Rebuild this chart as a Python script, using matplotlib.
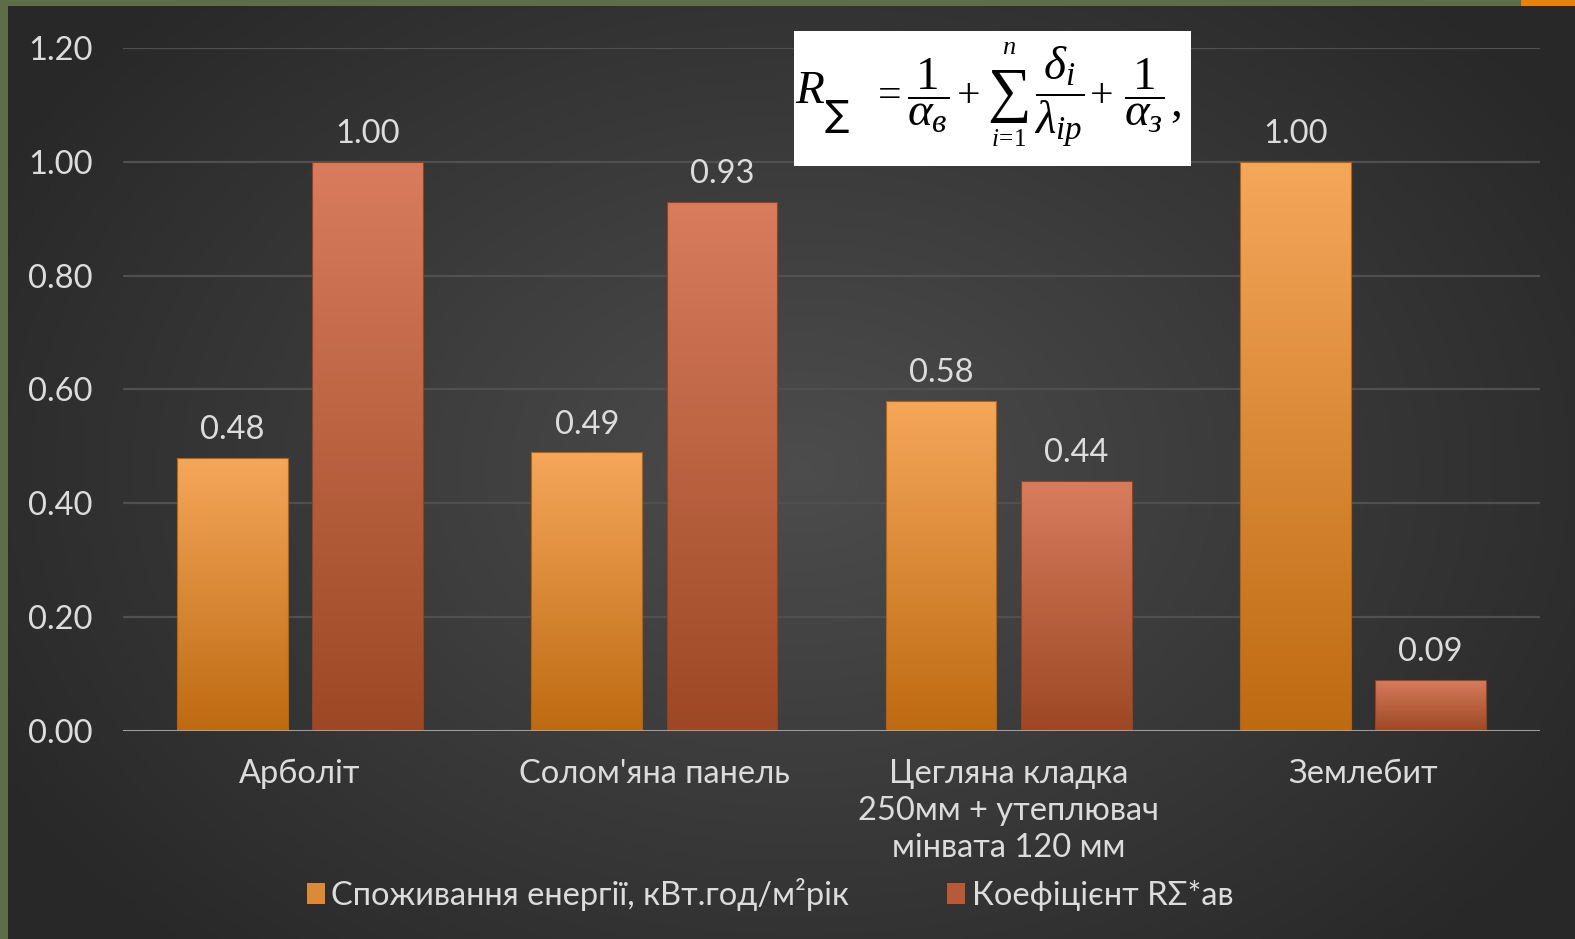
import numpy as np
import matplotlib
matplotlib.use("Agg")
import matplotlib.pyplot as plt
from matplotlib.patches import Rectangle, Patch
from matplotlib.colors import LinearSegmentedColormap

# ---- data ----
categories = ["Арболіт", "Солом'яна панель",
              "Цегляна кладка\n250мм + утеплювач\nмінвата 120 мм", "Землебит"]
energy = [0.48, 0.49, 0.58, 1.00]
resistance = [1.00, 0.93, 0.44, 0.09]
series_names = ["Споживання енергії, кВт.год/м²рік", "Коефіцієнт RΣ*ав"]
yticks = [0.0, 0.2, 0.4, 0.6, 0.8, 1.0, 1.2]

plt.rcParams["font.family"] = ["Lato", "DejaVu Sans"]
plt.rcParams["mathtext.fontset"] = "custom"
plt.rcParams["mathtext.rm"] = "Liberation Serif"
plt.rcParams["mathtext.it"] = "Liberation Serif:italic"
plt.rcParams["mathtext.bf"] = "Liberation Serif:bold"
plt.rcParams["mathtext.fallback"] = "stix"

TEXT = "#DCDCDC"
FS = 23.5
W, H = 1575, 939
fig = plt.figure(figsize=(W / 100, H / 100), dpi=100)

# ---- slide background: dark radial gradient with green frame ----
bg = fig.add_axes([0, 0, 1, 1])
bg.set_axis_off()
yy, xx = np.mgrid[0:H, 0:W]
r = np.sqrt(((xx - 800) / 900.0) ** 2 + ((yy - 470) / 650.0) ** 2)
r = np.clip(r, 0, 1)
shade = 0.30 - 0.14 * r
img = np.dstack([shade, shade, shade])
bg.imshow(img, extent=[0, W, H, 0], aspect="auto", interpolation="bilinear")
bg.set_xlim(0, W)
bg.set_ylim(H, 0)
bg.add_patch(Rectangle((0, 0), W, 6, color="#5d6c49", lw=0))
bg.add_patch(Rectangle((0, 0), 8, H, color="#5d6c49", lw=0))
bg.add_patch(Rectangle((1521, 0), W - 1521, 6, color="#E8820F", lw=0))

# ---- chart ----
ax = fig.add_axes([123 / W, 1 - 731 / H, (1540 - 123) / W, (731 - 48) / H])
ax.patch.set_alpha(0)
x = np.arange(len(categories))
bw = 0.313
off = 0.191

orange_cmap = LinearSegmentedColormap.from_list("o", ["#BE6A12", "#F5A75A"])
red_cmap = LinearSegmentedColormap.from_list("r", ["#9D4824", "#D87C5D"])

bars1 = ax.bar(x - off, energy, bw, color="none", zorder=3)
bars2 = ax.bar(x + off, resistance, bw, color="none", zorder=3)

grad = np.linspace(0, 1, 256).reshape(-1, 1)
for bars, cmap, edge in ((bars1, orange_cmap, "#B5620F"), (bars2, red_cmap, "#94431F")):
    for b in bars:
        x0, y0 = b.get_x(), b.get_y()
        w, h = b.get_width(), b.get_height()
        im = ax.imshow(grad, cmap=cmap, origin="lower", aspect="auto",
                       extent=[x0, x0 + w, y0, y0 + h], zorder=3)
        im.set_clip_path(b)
        b.set_edgecolor(edge)
        b.set_linewidth(0.8)
        b.set_zorder(4)
        ax.text(x0 + w / 2, h + 0.022, f"{h:.2f}", ha="center", va="bottom",
                color=TEXT, fontsize=FS, zorder=5)

ax.set_xlim(-0.5, len(categories) - 0.5)
ax.set_ylim(0, 1.2)
ax.set_yticks(yticks)
ax.set_yticklabels([f"{v:.2f}" for v in yticks])
ax.set_xticks(x)
ax.set_xticklabels(categories, linespacing=1.3)
ax.tick_params(axis="both", length=0, colors=TEXT, labelsize=FS)
ax.tick_params(axis="y", pad=22)
ax.tick_params(axis="x", pad=20)
for s in ax.spines.values():
    s.set_visible(False)
ax.grid(axis="y", color="#505050", lw=1.6, zorder=0)
ax.set_axisbelow(True)
ax.axhline(0, color="#A8A8A8", lw=2, zorder=6)

# ---- legend ----
handles = [Patch(facecolor="#DC8A35", edgecolor="none"),
           Patch(facecolor="#B65A38", edgecolor="none")]
fig.legend(handles, series_names, loc="center", bbox_to_anchor=(0.489, 0.047),
           ncol=2, frameon=False, fontsize=FS, labelcolor=TEXT,
           handlelength=0.55, handleheight=0.6, handletextpad=0.2, columnspacing=3.0)

# ---- formula box: thermal resistance of the wall ----
fig.patches.append(Rectangle((794 / W, 1 - 166 / H), (1191 - 794) / W, (166 - 31) / H,
                             transform=fig.transFigure, facecolor="white",
                             edgecolor="none", zorder=5))


def put(px, py, s, size, **kw):
    fig.text(px / W, 1 - py / H, s, ha="center", va="center", fontsize=size,
             color="black", zorder=6, **kw)


put(810, 90, r"$R$", 34)
put(837, 116, "∑", 26, family="DejaVu Sans")
put(886, 93, r"$=$", 30)
put(928, 96, r"$\dfrac{1}{\alpha_{в}}$", 34)
put(968, 93, r"$+$", 30)
put(1009, 95, "∑", 44, family="Liberation Serif")
put(1009, 47, r"$n$", 19)
put(1009, 139, r"$i\!=\!1$", 18)
put(1059, 97, r"$\dfrac{\delta_{i}}{\lambda_{ip}}$", 34)
put(1101, 93, r"$+$", 30)
put(1144, 96, r"$\dfrac{1}{\alpha_{з}}$", 34)
put(1175, 104, r"$,$", 34)

fig.savefig("out.png", dpi=100)
